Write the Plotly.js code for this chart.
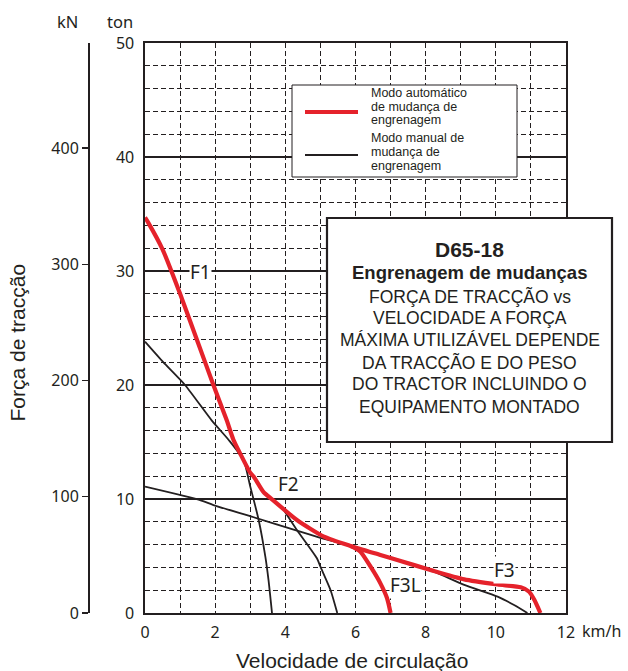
<!DOCTYPE html>
<html>
<head>
<meta charset="utf-8">
<script src="https://cdn.plot.ly/plotly-3.0.1.min.js"></script>
<style>html,body{margin:0;padding:0;background:#fff;}</style>
</head>
<body>
<div id="chart" style="width:628px;height:671px;"></div>
<script>
// ---- data (speed km/h, tractive force ton) ----
var autoMainX = [0, 0.1, 0.5, 1.0, 1.5, 1.95, 2.33, 2.52, 2.71, 3.0, 3.1, 3.38, 3.62, 4.33, 5.1, 5.86, 6.71, 7.19, 8.14, 9.1, 10.05, 10.71, 10.95, 11.1, 11.27];
var autoMainY = [34.7, 34.2, 31.9, 28.0, 23.8, 20.0, 16.9, 15.2, 14.0, 12.3, 11.96, 10.6, 9.97, 8.16, 6.7, 5.88, 5.09, 4.65, 3.77, 2.95, 2.5, 2.25, 1.87, 1.14, 0];
var autoF3LX = [5.86, 6.14, 6.43, 6.71, 6.9, 7.0];
var autoF3LY = [5.88, 5.38, 4.06, 2.6, 1.29, 0];
var manualF1X = [0, 0.52, 1.14, 1.9, 2.38, 2.81, 3.0, 3.24, 3.43, 3.52, 3.62];
var manualF1Y = [23.8, 22.0, 20.0, 16.9, 15.2, 13.4, 11.1, 8.16, 4.94, 2.9, 0];
var manualF2X = [3.9, 4.33, 4.9, 5.0, 5.29, 5.48];
var manualF2Y = [9.3, 7.28, 4.8, 4.06, 2.0, 0];
var manualF3X = [0, 1.57, 1.95, 3.1, 4.33, 5.0, 5.86, 6.71, 7.19, 8.24, 9.1, 10.05, 10.52, 10.9];
var manualF3Y = [11.08, 9.9, 9.47, 8.4, 7.22, 6.6, 5.88, 5.09, 4.65, 3.62, 2.46, 1.43, 0.70, 0];
var xTickVals = [0, 2, 4, 6, 8, 10, 12];
var xTickText = ["0", "2", "4", "6", "8", "10", "12"];
var tonTickVals = [0, 10, 20, 30, 40, 50];
var kNTickVals = [0, 100, 200, 300, 400];
var gearLabels = ["F1", "F2", "F3L", "F3"];
var gearLabelX = [1.57, 4.1, 7.43, 10.26];
var gearLabelY = [29.9, 11.3, 2.45, 3.77];
var legendAutoLines = ["Modo automático", "de mudança de", "engrenagem"];
var legendManualLines = ["Modo manual de", "mudança de", "engrenagem"];
var boxLines = ["D65-18", "Engrenagem de mudanças", "FORÇA DE TRACÇÃO vs", "VELOCIDADE A FORÇA", "MÁXIMA UTILIZÁVEL DEPENDE", "DA TRACÇÃO E DO PESO", "DO TRACTOR INCLUINDO O", "EQUIPAMENTO MONTADO"];
var TON_TO_KN = 9.80665;

var RED = '#e5222b';
var INK = '#231f20';
var W = 628, H = 671;
var plotL = 145, plotR = 566, plotT = 43, plotB = 613;
function px(x) { return x / W; }
function py(y) { return (plotB - y) / (plotB - plotT); }

var axisFont = {family: 'Noto Sans, sans-serif', size: 16, color: INK};
var spl = {shape: 'spline', smoothing: 0.6};

var traces = [
  {x: manualF1X, y: manualF1Y, mode: 'lines', line: Object.assign({color: INK, width: 1.8}, spl), showlegend: false, hoverinfo: 'skip'},
  {x: manualF2X, y: manualF2Y, mode: 'lines', line: Object.assign({color: INK, width: 1.8}, spl), showlegend: false, hoverinfo: 'skip'},
  {x: manualF3X, y: manualF3Y, mode: 'lines', line: Object.assign({color: INK, width: 1.8}, spl), showlegend: false, hoverinfo: 'skip'},
  {x: autoF3LX, y: autoF3LY, mode: 'lines', line: Object.assign({color: RED, width: 4.2}, spl), showlegend: false, hoverinfo: 'skip'},
  {x: autoMainX, y: autoMainY, mode: 'lines', line: Object.assign({color: RED, width: 4.2}, spl), showlegend: false, hoverinfo: 'skip'},
  {x: [], y: [], yaxis: 'y2', mode: 'lines', showlegend: false, hoverinfo: 'skip'}
];

function paperText(x, y, text, font, extra) {
  var a = {x: px(x), y: py(y), xref: 'paper', yref: 'paper', text: text, showarrow: false,
    xanchor: 'center', yanchor: 'middle', font: font};
  if (extra) Object.assign(a, extra);
  return a;
}

var annotations = [];
// gear labels
for (var i = 0; i < gearLabels.length; i++) {
  annotations.push({x: gearLabelX[i], y: gearLabelY[i], xref: 'x', yref: 'y', text: gearLabels[i], showarrow: false,
    xanchor: 'center', yanchor: 'middle',
    font: {family: 'Noto Sans, sans-serif', size: 19, color: INK}, bgcolor: '#ffffff', borderpad: 0});
}
// unit labels
var unitFont = {family: 'Noto Sans, sans-serif', size: 16.5, color: INK};
annotations.push(paperText(67, 21, 'kN', unitFont));
annotations.push(paperText(120, 21, 'ton', unitFont));
annotations.push(paperText(580, 631, 'km/h', axisFont, {xanchor: 'left'}));
// axis titles
var titleFont = {family: 'Liberation Sans, sans-serif', size: 21, color: INK};
annotations.push(paperText(17, 342.5, 'Força de tracção', titleFont, {textangle: -90}));
annotations.push(paperText(351.5, 660, 'Velocidade de circulação', titleFont));
// legend texts
var legFont = {family: 'Liberation Sans, sans-serif', size: 12.5, color: INK};
var legAutoY = [92.5, 106.5, 120.5];
var legManY = [138, 152, 166];
for (var k = 0; k < 3; k++) {
  annotations.push(paperText(370, legAutoY[k], legendAutoLines[k], legFont, {xanchor: 'left', borderpad: 0}));
  annotations.push(paperText(370, legManY[k], legendManualLines[k], legFont, {xanchor: 'left', borderpad: 0}));
}
// info box lines
var boxY = [249, 272, 296, 318, 340, 362, 384, 407];
var boxSize = [21, 18.5, 17.5, 17.5, 17.5, 17.5, 17.5, 17.5];
for (var j = 0; j < boxLines.length; j++) {
  var bold = j < 2;
  annotations.push(paperText(470, boxY[j], bold ? '<b>' + boxLines[j] + '</b>' : boxLines[j],
    {family: 'Liberation Sans, sans-serif', size: boxSize[j], color: INK}, {borderpad: 0}));
}

var shapes = [
  // legend box
  {type: 'rect', xref: 'paper', yref: 'paper', x0: px(292), x1: px(517), y0: py(85), y1: py(177), line: {color: INK, width: 1}, fillcolor: '#ffffff', layer: 'above'},
  {type: 'line', xref: 'paper', yref: 'paper', x0: px(305), x1: px(358), y0: py(112), y1: py(112), line: {color: RED, width: 4}, layer: 'above'},
  {type: 'line', xref: 'paper', yref: 'paper', x0: px(305), x1: px(358), y0: py(155), y1: py(155), line: {color: INK, width: 2}, layer: 'above'},
  // info box
  {type: 'rect', xref: 'paper', yref: 'paper', x0: px(327), x1: px(612), y0: py(218), y1: py(442), line: {color: INK, width: 2.2}, fillcolor: '#ffffff', layer: 'above'}
];

var layout = {
  width: W, height: H,
  margin: {l: 0, r: 0, t: plotT, b: H - plotB},
  paper_bgcolor: '#ffffff', plot_bgcolor: '#ffffff',
  showlegend: false,
  xaxis: {
    domain: [px(plotL), px(plotR)], range: [0, 12], fixedrange: true,
    tickvals: xTickVals, ticktext: xTickText, ticks: '', tickfont: axisFont, ticklabelstandoff: 4,
    showgrid: true, gridcolor: INK, gridwidth: 1, griddash: '5px,3px',
    minor: {dtick: 1, showgrid: true, gridcolor: INK, gridwidth: 1, griddash: '5px,3px'},
    showline: true, linecolor: INK, linewidth: 1.6, mirror: true, zeroline: false
  },
  yaxis: {
    range: [0, 50], fixedrange: true,
    tickvals: tonTickVals, ticks: '', tickfont: axisFont, ticklabelstandoff: 6,
    showgrid: true, gridcolor: INK, gridwidth: 1.4,
    minor: {dtick: 2, showgrid: true, gridcolor: INK, gridwidth: 1, griddash: '5px,3px'},
    showline: true, linecolor: INK, linewidth: 1.6, mirror: true, zeroline: false
  },
  yaxis2: {
    overlaying: 'y', anchor: 'free', position: px(88), side: 'left',
    range: [0, 50 * TON_TO_KN], fixedrange: true,
    tickvals: kNTickVals, ticks: 'outside', ticklen: 6, tickwidth: 1.4, tickcolor: INK, tickfont: axisFont,
    showgrid: false, showline: true, linecolor: INK, linewidth: 1.6, zeroline: false
  },
  annotations: annotations,
  shapes: shapes
};

Plotly.newPlot('chart', traces, layout, {staticPlot: true, displayModeBar: false});
</script>
</body>
</html>
